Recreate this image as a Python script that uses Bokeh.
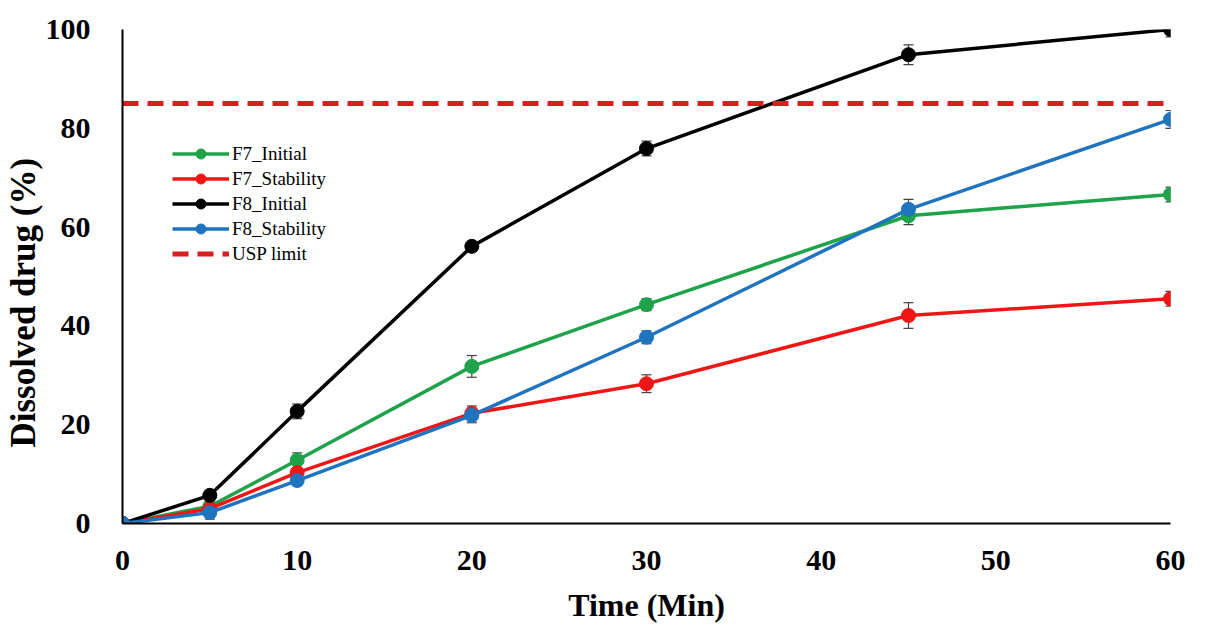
from bokeh.plotting import figure
from bokeh.models import Range1d, ColumnDataSource, Whisker, TeeHead, Legend, FixedTicker
from bokeh.embed import file_html
from bokeh.resources import INLINE

# dissolution data
time = [0, 5, 10, 20, 30, 45, 60]

f7_initial = [0, 3.5, 12.8, 31.8, 44.3, 62.3, 66.6]
f7_initial_sd = [0, 0.8, 1.5, 2.2, 1.2, 1.8, 1.5]

f7_stability = [0, 3.0, 10.3, 22.3, 28.3, 42.1, 45.5]
f7_stability_sd = [0, 0.8, 1.0, 1.5, 1.8, 2.6, 1.5]

f8_initial = [0, 5.7, 22.7, 56.1, 75.9, 94.9, 100]
f8_initial_sd = [0, 0.6, 1.5, 0.8, 1.5, 2.0, 1.5]

f8_stability = [0, 2.2, 8.7, 21.9, 37.7, 63.6, 81.8]
f8_stability_sd = [0, 1.3, 1.0, 1.5, 1.3, 2.0, 1.8]

usp_limit = 85
usp_span = [0, 60]

x_ticks = [0, 10, 20, 30, 40, 50, 60]
y_ticks = [0, 20, 40, 60, 80, 100]

FONT = "Liberation Serif"
NB = "\u00a0"

p = figure(frame_width=1048, frame_height=494,
           min_border_left=122, min_border_right=20,
           min_border_top=29, min_border_bottom=99,
           x_range=Range1d(0, 60), y_range=Range1d(0, 100),
           output_backend="svg", toolbar_location=None)
p.outline_line_color = None
p.grid.visible = False

for ax in (p.xaxis, p.yaxis):
    ax.axis_line_color = "black"
    ax.axis_line_width = 2
    ax.major_tick_line_color = None
    ax.minor_tick_line_color = None
    ax.major_label_text_font = FONT
    ax.major_label_text_font_style = "bold"
    ax.major_label_text_font_size = "30px"
    ax.major_label_text_color = "black"
    ax.axis_label_text_font = FONT
    ax.axis_label_text_font_style = "bold"
    ax.axis_label_text_color = "black"

p.xaxis.ticker = FixedTicker(ticks=x_ticks)
p.yaxis.ticker = FixedTicker(ticks=y_ticks)
p.xaxis.major_label_standoff = 21
p.yaxis.major_label_standoff = 26
p.xaxis.axis_label = "Time (Min)"
p.xaxis.axis_label_text_font_size = "32px"
p.xaxis.axis_label_standoff = 14
# trailing spaces push the title a little below centre, like the original
p.yaxis.axis_label = "Dissolved drug (%)" + NB * 6
p.yaxis.axis_label_text_font_size = "35px"
p.yaxis.axis_label_standoff = 0

series = [
    ("F7_Initial", f7_initial, f7_initial_sd, "#1fa34a"),
    ("F7_Stability", f7_stability, f7_stability_sd, "#f01616"),
    ("F8_Initial", f8_initial, f8_initial_sd, "black"),
    ("F8_Stability", f8_stability, f8_stability_sd, "#1f74c0"),
]

items = []
for name, vals, sd, col in series:
    r1 = p.line(time, vals, line_color=col, line_width=3.5)
    r2 = p.scatter(time, vals, size=14, fill_color=col, line_color=col)
    items.append((name, [r1, r2]))
    idx = [i for i in range(len(time)) if sd[i] > 0]
    src = ColumnDataSource(dict(
        x=[time[i] for i in idx],
        upper=[vals[i] + sd[i] for i in idx],
        lower=[vals[i] - sd[i] for i in idx]))
    w = Whisker(base="x", upper="upper", lower="lower", source=src,
                line_color="#444444", line_width=1.2,
                upper_head=TeeHead(size=10, line_color="#444444", line_width=1.2),
                lower_head=TeeHead(size=10, line_color="#444444", line_width=1.2))
    p.add_layout(w)

usp = p.line(usp_span, [usp_limit, usp_limit], line_color="#d81e1e",
             line_width=5, line_dash="16 9")
items.append(("USP limit", [usp]))

legend = Legend(items=items, location=(50, 257))
legend.border_line_color = None
legend.background_fill_alpha = 0
legend.padding = 0
legend.margin = 0
legend.spacing = 0
legend.label_height = 25
legend.glyph_height = 25
legend.glyph_width = 57
legend.label_standoff = 3
legend.label_text_font = FONT
legend.label_text_font_size = "19px"
legend.label_text_color = "black"
p.add_layout(legend)

open("out.html", "w").write(file_html(p, INLINE))
